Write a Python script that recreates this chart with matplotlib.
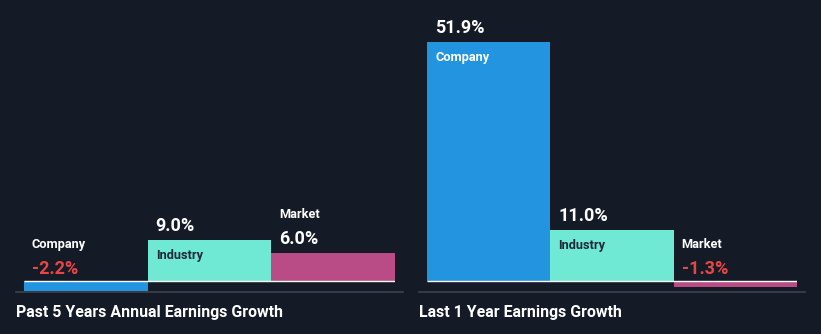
import matplotlib.pyplot as plt
from matplotlib.lines import Line2D

plt.rcParams['font.family'] = ['Roboto', 'DejaVu Sans']

# earnings growth in %
categories = ['Company', 'Industry', 'Market']
past_5y = [-2.2, 9.0, 6.0]
last_1y = [51.9, 11.0, -1.3]
titles = ['Past 5 Years Annual Earnings Growth', 'Last 1 Year Earnings Growth']

bg = '#151b26'
colors = ['#2394df', '#6fe8d4', '#b94b86']
name_colors = ['white', '#1e2a38', 'white']
red = '#e84545'

W, H = 821, 334
PX_PER_PCT = 4.61
ZERO_Y = 281  # baseline, px from top

fig = plt.figure(figsize=(W / 100, H / 100), dpi=100, facecolor=bg)

PT = 0.72  # points per pixel at 100 dpi


def panel(left_px, width_px, values, title, line_x0, line_x1):
    ax = fig.add_axes([left_px / W, 0, width_px / W, 1])
    ax.set_facecolor(bg)
    ax.patch.set_alpha(0)
    ax.set_xlim(0, 3)
    ax.set_ylim(-(H - ZERO_Y) / PX_PER_PCT, ZERO_Y / PX_PER_PCT)
    ax.axis('off')
    ax.bar(range(3), values, width=1, align='edge', color=colors, linewidth=0)
    ax.plot([0, 3], [0, 0], color='white', lw=1.0, solid_capstyle='butt')

    for i, (name, v) in enumerate(zip(categories, values)):
        label = f'{v:.1f}%'
        vcol = red if v < 0 else 'white'
        if v < 0:
            name_off, val_off, ncol = 33, 7, 'white'
        elif v < 7:
            name_off, val_off, ncol = 35, 9, 'white'
        else:
            name_off, val_off, ncol = None, 9, name_colors[i]
        top = max(v, 0)
        ax.annotate(label, (i, top), xytext=(8 * PT, val_off * PT),
                    textcoords='offset points', ha='left', va='baseline',
                    color=vcol, fontsize=13, fontweight='bold')
        if name_off is None:
            ax.annotate(name, (i, v), xytext=(8 * PT, -19 * PT),
                        textcoords='offset points', ha='left', va='baseline',
                        color=ncol, fontsize=9.2, fontweight='bold')
        else:
            ax.annotate(name, (i, top), xytext=(8 * PT, name_off * PT),
                        textcoords='offset points', ha='left', va='baseline',
                        color=ncol, fontsize=9.2, fontweight='bold')

    # divider and panel title
    fig.add_artist(Line2D([line_x0 / W, line_x1 / W], [1 - 292 / H] * 2,
                          color='#3d424c', lw=1.2))
    fig.text(line_x0 / W, 1 - 317 / H, title, color='white', fontsize=11.4,
             fontweight='bold', ha='left', va='baseline')


panel(24, 371, past_5y, titles[0], 16, 403)
panel(427, 370, last_1y, titles[1], 419, 805)

fig.savefig('out.png', dpi=100, facecolor=bg)
